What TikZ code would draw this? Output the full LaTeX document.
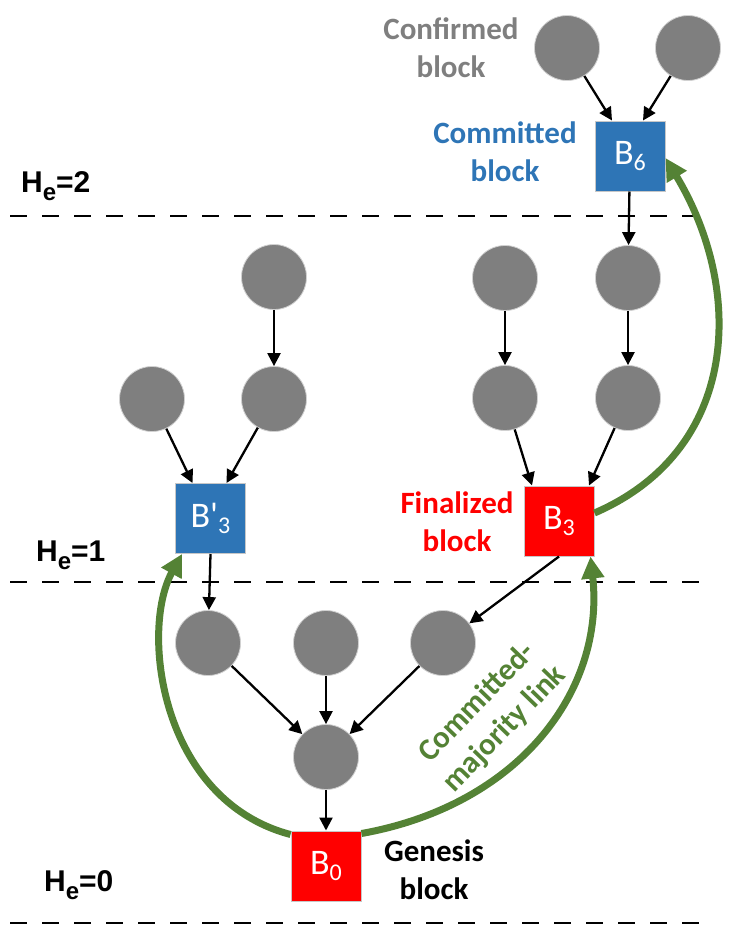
\documentclass[tikz,border=0pt]{standalone}
\usepackage{fontspec}
\setmainfont{Carlito}
\newfontfamily\hfont{Liberation Sans}
\usetikzlibrary{arrows.meta}
\definecolor{cgray}{RGB}{127,127,127}
\definecolor{cblue}{RGB}{46,117,182}
\definecolor{cred}{RGB}{255,0,0}
\definecolor{cgreen}{RGB}{84,130,53}
\begin{document}
\begin{tikzpicture}[x=1pt,y=-1pt,
  blk/.style={circle,fill=cgray,draw=black!18,line width=0.8pt,minimum size=65pt,inner sep=0pt},
  sq/.style={rectangle,minimum size=70pt,inner sep=0pt,draw=black!22,line width=1pt,text=white,font=\fontsize{36}{36}\selectfont},
  arr/.style={draw=black,line width=2.3pt,-{Triangle[length=13pt,width=13pt]}},
  glink/.style={draw=cgreen,line width=7pt,-{Triangle[length=22pt,width=22pt]}},
  hline/.style={draw=black,line width=2.7pt,dash pattern=on 17pt off 15pt},
  lbl/.style={align=center,font=\bfseries\fontsize{31}{38}\selectfont,inner sep=0pt},
  hlab/.style={font=\hfont\bfseries\fontsize{30}{30}\selectfont,inner sep=0pt,anchor=base west}
]
\useasboundingbox (0,0) rectangle (754,927);

% level lines
\coordinate (h2a) at (10,216); \coordinate (h2b) at (700,216);
\coordinate (h1a) at (10,582); \coordinate (h1b) at (706,582);
\coordinate (h0a) at (10,923); \coordinate (h0b) at (706,923);
\draw[hline] (h2a) -- (h2b);
\draw[hline] (h1a) -- (h1b);
\draw[hline] (h0a) -- (h0b);

\node[hlab] (he2) at (21,192) {H\raisebox{-8pt}{\fontsize{24}{24}\selectfont e}=2};
\node[hlab] (he1) at (36,561) {H\raisebox{-8pt}{\fontsize{24}{24}\selectfont e}=1};
\node[hlab] (he0) at (44,891) {H\raisebox{-8pt}{\fontsize{24}{24}\selectfont e}=0};

% blocks
\node[blk] (c61) at (567,48) {};
\node[blk] (c62) at (688,48) {};
\node[sq,fill=cblue] (b6) at (630,156) {B\raisebox{-6pt}{\fontsize{24}{24}\selectfont 6}};

\node[blk] (r1t) at (505,278) {};
\node[blk] (r2t) at (628,278) {};
\node[blk] (r1b) at (505,398) {};
\node[blk] (r2b) at (628,398) {};
\node[sq,fill=cred] (b3) at (559,521) {B\raisebox{-6pt}{\fontsize{24}{24}\selectfont 3}};

\node[blk] (l2t) at (274,277) {};
\node[blk] (l1b) at (152,399) {};
\node[blk] (l2b) at (274,399) {};
\node[sq,fill=cblue] (b3p) at (210.5,518.5) {B\textquotesingle\raisebox{-6pt}{\fontsize{24}{24}\selectfont 3}};

\node[blk] (d1) at (208,643) {};
\node[blk] (d2) at (326,643) {};
\node[blk] (d3) at (443,643) {};
\node[blk] (d4) at (326,757) {};
\node[sq,fill=cred] (b0) at (326,866) {B\raisebox{-6pt}{\fontsize{24}{24}\selectfont 0}};

% labels
\node[lbl,text=cgray] (lconf) at (451,48) {Confirmed\\block};
\node[lbl,text=cblue] (lcomm) at (505,152) {Committed\\block};
\node[lbl,text=cred] (lfin) at (457,522) {Finalized\\block};
\node[lbl,text=black] (lgen) at (434,870) {Genesis\\block};
\node[lbl,text=cgreen,rotate=46] (llink) at (491,716) {Committed-\\majority link};

% black arrows
\draw[arr] (c61) -- ([xshift=-18pt]b6.north);
\draw[arr] (c62) -- ([xshift=13pt]b6.north);
\draw[arr] (b6) -- (r2t);
\draw[arr] (r2t) -- (r2b);
\draw[arr] (r1t) -- (r1b);
\draw[arr] (r1b) -- ([xshift=-27pt]b3.north);
\draw[arr] (r2b) -- ([xshift=30pt]b3.north);
\draw[arr] (l2t) -- (l2b);
\draw[arr] (l1b) -- ([xshift=-18pt]b3p.north);
\draw[arr] (l2b) -- ([xshift=16pt]b3p.north);
\draw[arr] (b3p.south) -- (d1);
\draw[arr] (b3.south) -- (d3);
\draw[arr] (d1) -- (d4);
\draw[arr] (d2) -- (d4);
\draw[arr] (d3) -- (d4);
\draw[arr] (d4) -- (b0.north);

% green committed-majority links
\draw[glink] ([yshift=-4pt]b0.north west) .. controls (160,800) and (140,630) .. ([xshift=7pt]b3p.south west);
\draw[glink] ([yshift=-3pt]b0.north east) .. controls (520,805) and (605,690) .. ([xshift=-4pt]b3.south east);
\draw[glink] ([yshift=8pt]b3.east) .. controls (740,450) and (745,290) .. ([yshift=-2pt]b6.east);
\end{tikzpicture}
\end{document}
